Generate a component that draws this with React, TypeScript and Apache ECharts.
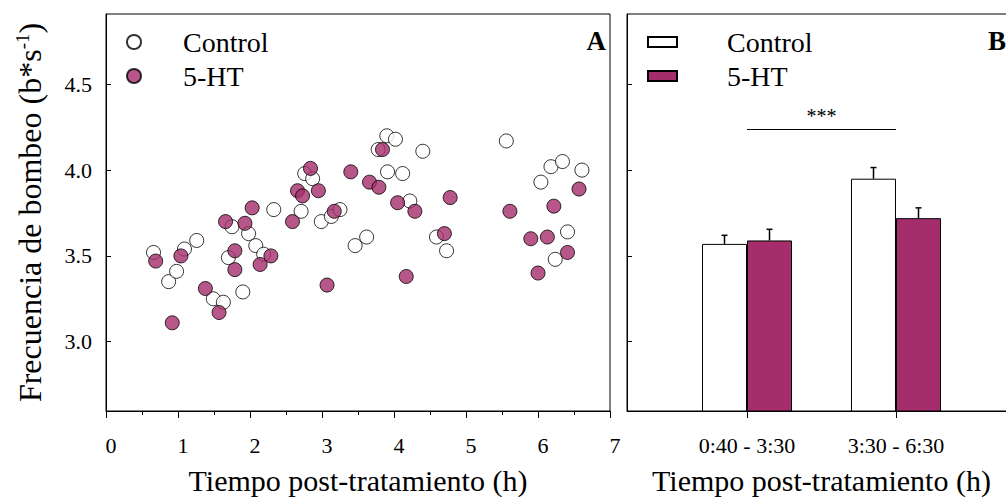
import React, { useEffect, useRef } from "react";
import * as echarts from "echarts";

// ---- Data ----
const seriesNames = ["Control", "5-HT"];

// Panel A: time post-treatment (h), pumping frequency (b*s^-1)
const controlPoints: [number, number][] = [
  [0.66, 3.52], [0.87, 3.35], [0.98, 3.41], [1.09, 3.54], [1.26, 3.59],
  [1.49, 3.25], [1.63, 3.23], [1.9, 3.29], [1.7, 3.49], [1.75, 3.67],
  [1.98, 3.63], [2.08, 3.56], [2.19, 3.51], [2.33, 3.77], [2.71, 3.76],
  [2.99, 3.7], [3.13, 3.73], [3.25, 3.77], [2.76, 3.98], [2.87, 3.95],
  [3.46, 3.56], [3.62, 3.61], [3.9, 4.2], [4.02, 4.18], [3.78, 4.12],
  [4.4, 4.11], [3.91, 3.99], [4.12, 3.98], [4.22, 3.82], [4.59, 3.61],
  [4.73, 3.53], [5.56, 4.17], [6.18, 4.02], [6.34, 4.05], [6.61, 4.0],
  [6.04, 3.93], [6.41, 3.64], [6.24, 3.48],
];
const htPoints: [number, number][] = [
  [0.69, 3.47], [1.04, 3.5], [0.92, 3.11], [1.38, 3.31], [1.57, 3.17],
  [1.66, 3.7], [1.79, 3.53], [1.79, 3.42], [1.93, 3.69], [2.03, 3.78],
  [2.14, 3.45], [2.29, 3.5], [2.59, 3.7], [2.66, 3.88], [2.73, 3.85],
  [2.84, 4.01], [2.95, 3.88], [3.17, 3.76], [3.07, 3.33], [3.4, 3.99],
  [3.84, 4.12], [3.66, 3.93], [3.79, 3.9], [4.05, 3.81], [4.29, 3.76],
  [4.78, 3.84], [4.7, 3.63], [4.17, 3.38], [5.61, 3.76], [5.9, 3.6],
  [6.13, 3.61], [6.22, 3.79], [6.57, 3.89], [6.41, 3.52], [6.0, 3.4],
];

// Panel B: grouped means with SEM
const groupLabels = ["0:40 - 3:30", "3:30 - 6:30"];
const groupPositions = [1, 2];
const controlMeans = [3.57, 3.95];
const controlErr = [0.05, 0.065];
const htMeans = [3.59, 3.72];
const htErr = [0.065, 0.06];
const significanceLevel = 4.24;
const significanceLabel = "***";

// Tick labels
const yTickValues = [3.0, 3.5, 4.0, 4.5];
const xTickMinA = 0;
const xTickMaxA = 7;

const FONT = '"Liberation Serif", "Times New Roman", serif';
const PURPLE = "#A52D6C";
const BAR_W = 45;

export default function App() {
  const ref = useRef<HTMLDivElement>(null);

  useEffect(() => {
    if (!ref.current) return;
    const chart = echarts.init(ref.current, undefined, { renderer: "svg" });

    const axisLineStyle = { color: "#000", width: 1 };
    const yRange = { min: 2.596, max: 4.91 };

    const errorData = groupPositions.flatMap((x, i) => [
      [x, controlMeans[i], controlErr[i], -1],
      [x, htMeans[i], htErr[i], 1],
    ]);

    const legendText = { fontFamily: FONT, fontSize: 28, color: "#000" };
    const xNameStyle = { fontFamily: FONT, fontSize: 30, color: "#000" };

    const option: any = {
      animation: false,
      textStyle: { fontFamily: FONT, color: "#000" },
      grid: [
        {
          left: 106, top: 14, width: 504, height: 397,
          show: true, borderColor: "#000", borderWidth: 1,
          containLabel: false, outerBoundsMode: "none",
        },
        {
          left: 627, top: 14, width: 389, height: 397,
          show: true, borderColor: "#000", borderWidth: 1,
          containLabel: false, outerBoundsMode: "none",
        },
      ],
      legend: [
        {
          data: seriesNames.map((n) => ({ name: n, icon: "circle" })),
          orient: "vertical",
          left: 126,
          top: 28,
          padding: 0,
          itemWidth: 14,
          itemHeight: 14,
          itemGap: 6,
          selectedMode: false,
          textStyle: { ...legendText, padding: [0, 0, 0, 37] },
        },
        {
          data: seriesNames.map((n) => ({ name: n + " ", icon: "rect" })),
          orient: "vertical",
          left: 647,
          top: 28,
          padding: 0,
          itemWidth: 29,
          itemHeight: 10,
          itemGap: 6,
          selectedMode: false,
          textStyle: { ...legendText, padding: [0, 0, 0, 45] },
        },
      ],
      xAxis: [
        {
          type: "value",
          gridIndex: 0,
          min: xTickMinA,
          max: xTickMaxA,
          interval: 1,
          axisLine: { show: true, lineStyle: axisLineStyle },
          axisTick: { show: true, inside: false, length: 7, lineStyle: axisLineStyle },
          minorTick: { show: true, splitNumber: 2, length: 4, lineStyle: axisLineStyle },
          splitLine: { show: false },
          axisLabel: { fontFamily: FONT, fontSize: 22, color: "#000", margin: 23, padding: [0, 0, 0, 10] },
          name: "Tiempo post-tratamiento (h)",
          nameLocation: "middle",
          nameGap: 54,
          nameTextStyle: xNameStyle,
        },
        {
          type: "value",
          gridIndex: 1,
          min: 0.1946,
          max: 2.8054,
          axisLine: { show: true, lineStyle: axisLineStyle },
          axisTick: { show: true, inside: false, length: 7, lineStyle: axisLineStyle, customValues: groupPositions },
          splitLine: { show: false },
          axisLabel: {
            fontFamily: FONT,
            fontSize: 22,
            color: "#000",
            margin: 23,
            customValues: groupPositions,
            formatter: (v: number) => groupLabels[groupPositions.indexOf(Math.round(v))] ?? "",
          },
          name: "Tiempo post-tratamiento (h)",
          nameLocation: "middle",
          nameGap: 54,
          nameTextStyle: xNameStyle,
        },
      ],
      yAxis: [
        {
          type: "value",
          gridIndex: 0,
          ...yRange,
          axisLine: { show: true, lineStyle: axisLineStyle },
          axisTick: { show: true, inside: true, length: 5, lineStyle: axisLineStyle, customValues: yTickValues },
          splitLine: { show: false },
          axisLabel: {
            fontFamily: FONT,
            fontSize: 22,
            color: "#000",
            margin: 14,
            customValues: yTickValues,
            formatter: (v: number) => v.toFixed(1),
          },
          name: "Frecuencia de bombeo (b*s{sup|-1})",
          nameLocation: "middle",
          nameGap: 60,
          nameTextStyle: {
            fontFamily: FONT,
            fontSize: 32,
            color: "#000",
            rich: {
              sup: { fontFamily: FONT, fontSize: 19, color: "#000", verticalAlign: "top", padding: [0, 0, 14, 0] },
            },
          },
        },
        {
          type: "value",
          gridIndex: 1,
          ...yRange,
          axisLine: { show: true, lineStyle: axisLineStyle },
          axisTick: { show: true, inside: true, length: 5, lineStyle: axisLineStyle, customValues: yTickValues },
          splitLine: { show: false },
          axisLabel: { show: false },
        },
      ],
      series: [
        {
          name: "Control",
          type: "scatter",
          xAxisIndex: 0,
          yAxisIndex: 0,
          symbol: "circle",
          symbolSize: 14,
          itemStyle: { color: "#fff", borderColor: "#000", borderWidth: 1 },
          data: controlPoints,
        },
        {
          name: "5-HT",
          type: "scatter",
          xAxisIndex: 0,
          yAxisIndex: 0,
          symbol: "circle",
          symbolSize: 14,
          itemStyle: { color: PURPLE, borderColor: "#000", borderWidth: 1 },
          data: htPoints,
        },
        {
          name: "Control ",
          type: "bar",
          xAxisIndex: 1,
          yAxisIndex: 1,
          barWidth: BAR_W,
          barGap: "0%",
          itemStyle: { color: "#fff", borderColor: "#000", borderWidth: 1 },
          data: groupPositions.map((x, i) => [x, controlMeans[i]]),
        },
        {
          name: "5-HT ",
          type: "bar",
          xAxisIndex: 1,
          yAxisIndex: 1,
          barWidth: BAR_W,
          barGap: "0%",
          itemStyle: { color: PURPLE, borderColor: "#000", borderWidth: 1 },
          data: groupPositions.map((x, i) => [x, htMeans[i]]),
        },
        {
          name: "SEM",
          type: "custom",
          xAxisIndex: 1,
          yAxisIndex: 1,
          z: 5,
          data: errorData,
          encode: { x: 0, y: 1 },
          renderItem: (params: any, api: any) => {
            const x = api.value(0);
            const m = api.value(1);
            const e = api.value(2);
            const side = api.value(3);
            const base = api.coord([x, m]);
            const top = api.coord([x, m + e]);
            const cx = base[0] + (side * BAR_W) / 2;
            const style = { stroke: "#000", lineWidth: 1.5 };
            return {
              type: "group",
              children: [
                { type: "line", shape: { x1: cx, y1: base[1], x2: cx, y2: top[1] }, style },
                { type: "line", shape: { x1: cx - 3, y1: top[1], x2: cx + 3, y2: top[1] }, style },
              ],
            };
          },
          markLine: {
            silent: true,
            symbol: "none",
            lineStyle: { color: "#000", width: 1, type: "solid" },
            label: {
              show: true,
              position: "middle",
              formatter: significanceLabel,
              fontFamily: FONT,
              fontSize: 20,
              color: "#000",
              distance: 3,
            },
            data: [[{ coord: [groupPositions[0], significanceLevel] }, { coord: [groupPositions[1], significanceLevel] }]],
          },
        },
      ],
      graphic: [
        {
          type: "text",
          right: 1006 - 606,
          top: 27,
          style: { text: "A", fontFamily: FONT, fontSize: 27, fontWeight: "bold", fill: "#000" },
        },
        {
          type: "text",
          left: 988,
          top: 27,
          style: { text: "B", fontFamily: FONT, fontSize: 27, fontWeight: "bold", fill: "#000" },
        },
      ],
    };

    chart.setOption(option);
    return () => chart.dispose();
  }, []);

  return (
    <div
      ref={ref}
      style={{ position: "fixed", left: 0, top: 0, width: 1006, height: 498, background: "#fff" }}
    />
  );
}
